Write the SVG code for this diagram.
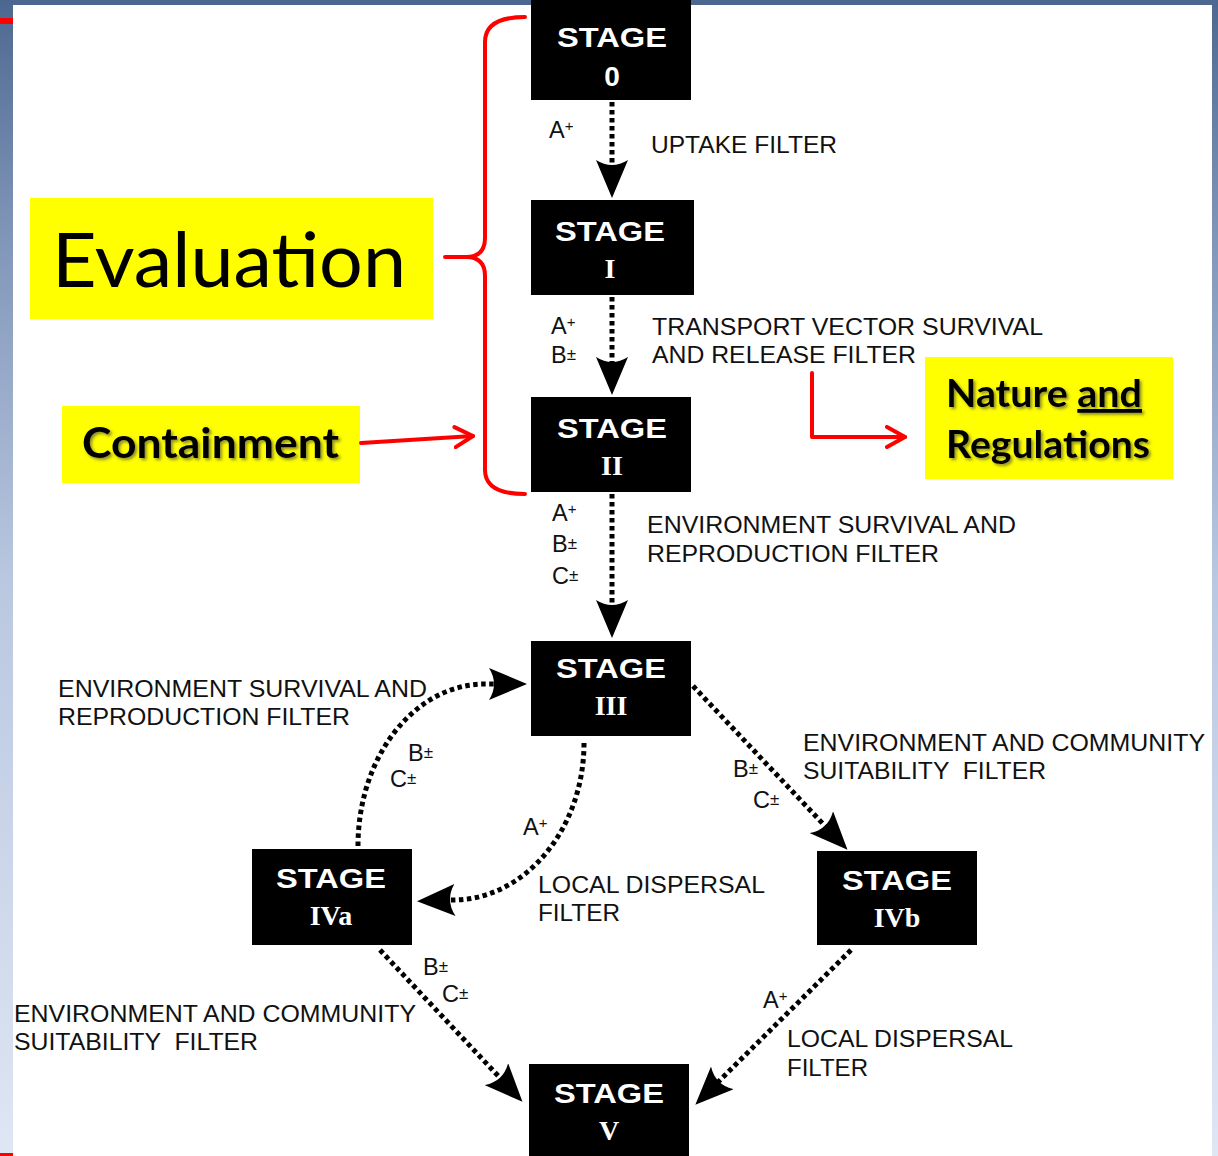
<svg xmlns="http://www.w3.org/2000/svg" width="1218" height="1156" viewBox="0 0 1218 1156">
<defs>
<linearGradient id="side" x1="0" y1="0" x2="0" y2="1">
<stop offset="0" stop-color="#4d6890"/>
<stop offset="0.2" stop-color="#7f95b8"/>
<stop offset="0.5" stop-color="#b9c7e0"/>
<stop offset="1" stop-color="#dfe6f4"/>
</linearGradient>
<marker id="ah" markerUnits="userSpaceOnUse" viewBox="0 0 38 32" markerWidth="38" markerHeight="32" refX="30" refY="16" orient="auto">
<path d="M38,16 L0,0 Q10,16 0,32 Z" fill="#000"/>
</marker>
<marker id="rh" markerUnits="userSpaceOnUse" viewBox="0 0 24 24" markerWidth="24" markerHeight="24" refX="20" refY="12" orient="auto">
<path d="M2,2 L20,12 L2,22" fill="none" stroke="#ff0000" stroke-width="4" stroke-linecap="round" stroke-linejoin="round"/>
</marker>
<filter id="sh" x="-10%" y="-20%" width="130%" height="150%">
<feDropShadow dx="2" dy="2" stdDeviation="1.5" flood-color="#404040" flood-opacity="0.6"/>
</filter>
</defs>
<style>
.box{fill:#000}
.st{font-family:"Liberation Sans",Arial,sans-serif;font-weight:bold;font-size:28px;fill:#fff;text-anchor:middle}
.rn{font-family:"Liberation Serif","Times New Roman",serif;font-weight:bold;font-size:28px;fill:#fff;text-anchor:middle}
.lb{font-family:"Liberation Sans",Arial,sans-serif;font-size:23.5px;fill:#111;white-space:pre}
.sp{font-size:15px}
.pm{font-size:17px}
.dot{fill:none;stroke:#000;stroke-width:5;stroke-dasharray:4.5 3.5;marker-end:url(#ah)}
.red{fill:none;stroke:#ff0000;stroke-width:4;stroke-linecap:round;stroke-linejoin:round}
.yl{fill:#ffff00}
.yt{font-family:Lato,"Liberation Sans",sans-serif;font-weight:bold;fill:#000;filter:url(#sh)}
</style>
<rect width="1218" height="1156" fill="#fff"/>
<rect x="0" y="0" width="13" height="1156" fill="url(#side)"/>
<rect x="1212" y="0" width="6" height="1156" fill="url(#side)"/>
<rect x="0" y="0" width="1218" height="5" fill="#4d6890"/>
<rect x="0" y="18" width="13" height="6" fill="#ff0000"/>
<rect x="0" y="1153" width="13" height="3" fill="#ff0000"/>

<g id="connectors">
<path class="dot" d="M612,102 L612,190"/>
<path class="dot" d="M612,297 L612,387"/>
<path class="dot" d="M612,494 L612,630"/>
<path class="dot" d="M584,743 C584,829 525,900 453,900 L425,901"/>
<path class="dot" d="M358,846 C358,756 415,684 485,684 L519,684"/>
<path class="dot" d="M693,686 L842,844"/>
<path class="dot" d="M380,950 L517,1096"/>
<path class="dot" d="M851,950 L701,1099"/>
</g>

<g id="stage0"><rect class="box" x="531" y="0" width="160" height="100"/><text class="st" x="612" y="47" textLength="110" lengthAdjust="spacingAndGlyphs">STAGE</text><text class="st" x="612" y="86" font-size="30">0</text></g>
<g id="stageI"><rect class="box" x="531" y="200" width="163" height="95"/><text class="st" x="610" y="241" textLength="110" lengthAdjust="spacingAndGlyphs">STAGE</text><text class="rn" x="610" y="278">I</text></g>
<g id="stageII"><rect class="box" x="531" y="397" width="160" height="95"/><text class="st" x="612" y="438" textLength="110" lengthAdjust="spacingAndGlyphs">STAGE</text><text class="rn" x="612" y="475">II</text></g>
<g id="stageIII"><rect class="box" x="531" y="641" width="160" height="95"/><text class="st" x="611" y="678" textLength="110" lengthAdjust="spacingAndGlyphs">STAGE</text><text class="rn" x="611" y="715">III</text></g>
<g id="stageIVa"><rect class="box" x="252" y="849" width="160" height="96"/><text class="st" x="331" y="888" textLength="110" lengthAdjust="spacingAndGlyphs">STAGE</text><text class="rn" x="331" y="925">IVa</text></g>
<g id="stageIVb"><rect class="box" x="817" y="851" width="160" height="94"/><text class="st" x="897" y="890" textLength="110" lengthAdjust="spacingAndGlyphs">STAGE</text><text class="rn" x="897" y="927">IVb</text></g>
<g id="stageV"><rect class="box" x="529" y="1064" width="160" height="96"/><text class="st" x="609" y="1103" textLength="110" lengthAdjust="spacingAndGlyphs">STAGE</text><text class="rn" x="609" y="1140">V</text></g>

<g id="labels">
<text class="lb" x="549" y="138">A<tspan class="sp" dy="-7">+</tspan></text>
<text class="lb" x="651" y="153" textLength="186" lengthAdjust="spacingAndGlyphs">UPTAKE FILTER</text>
<text class="lb" x="551" y="334">A<tspan class="sp" dy="-7">+</tspan></text>
<text class="lb" x="551" y="363">B<tspan class="pm" dy="-3">±</tspan></text>
<text class="lb" x="652" y="335" textLength="391" lengthAdjust="spacingAndGlyphs">TRANSPORT VECTOR SURVIVAL</text>
<text class="lb" x="652" y="363" textLength="264" lengthAdjust="spacingAndGlyphs">AND RELEASE FILTER</text>
<text class="lb" x="552" y="521">A<tspan class="sp" dy="-7">+</tspan></text>
<text class="lb" x="552" y="552">B<tspan class="pm" dy="-3">±</tspan></text>
<text class="lb" x="552" y="584">C<tspan class="pm" dy="-3">±</tspan></text>
<text class="lb" x="647" y="533" textLength="369" lengthAdjust="spacingAndGlyphs">ENVIRONMENT SURVIVAL AND</text>
<text class="lb" x="647" y="562" textLength="292" lengthAdjust="spacingAndGlyphs">REPRODUCTION FILTER</text>
<text class="lb" x="58" y="697" textLength="369" lengthAdjust="spacingAndGlyphs">ENVIRONMENT SURVIVAL AND</text>
<text class="lb" x="58" y="725" textLength="292" lengthAdjust="spacingAndGlyphs">REPRODUCTION FILTER</text>
<text class="lb" x="408" y="761">B<tspan class="pm" dy="-3">±</tspan></text>
<text class="lb" x="390" y="787">C<tspan class="pm" dy="-3">±</tspan></text>
<text class="lb" x="523" y="835">A<tspan class="sp" dy="-7">+</tspan></text>
<text class="lb" x="538" y="893" textLength="227" lengthAdjust="spacingAndGlyphs">LOCAL DISPERSAL</text>
<text class="lb" x="538" y="921" textLength="82" lengthAdjust="spacingAndGlyphs">FILTER</text>
<text class="lb" x="803" y="751" textLength="402" lengthAdjust="spacingAndGlyphs">ENVIRONMENT AND COMMUNITY</text>
<text class="lb" x="803" y="779" textLength="243" lengthAdjust="spacingAndGlyphs">SUITABILITY  FILTER</text>
<text class="lb" x="733" y="777">B<tspan class="pm" dy="-3">±</tspan></text>
<text class="lb" x="753" y="808">C<tspan class="pm" dy="-3">±</tspan></text>
<text class="lb" x="423" y="975">B<tspan class="pm" dy="-3">±</tspan></text>
<text class="lb" x="442" y="1002">C<tspan class="pm" dy="-3">±</tspan></text>
<text class="lb" x="14" y="1022" textLength="402" lengthAdjust="spacingAndGlyphs">ENVIRONMENT AND COMMUNITY</text>
<text class="lb" x="14" y="1050" textLength="244" lengthAdjust="spacingAndGlyphs">SUITABILITY  FILTER</text>
<text class="lb" x="763" y="1008">A<tspan class="sp" dy="-7">+</tspan></text>
<text class="lb" x="787" y="1047" textLength="226" lengthAdjust="spacingAndGlyphs">LOCAL DISPERSAL</text>
<text class="lb" x="787" y="1076" textLength="81" lengthAdjust="spacingAndGlyphs">FILTER</text>
</g>

<g id="bracket">
<path class="red" d="M525,17 Q485,17 485,42 L485,238 Q485,257 466,257 L445,257 M466,257 Q485,257 485,276 L485,470 Q485,494 525,494"/>
</g>
<g id="evaluation">
<rect class="yl" x="30" y="198" width="403" height="121"/>
<text x="52" y="287" font-family="Lato,'Liberation Sans',sans-serif" font-size="76" fill="#000" textLength="354" lengthAdjust="spacingAndGlyphs">Evaluation</text>
</g>
<g id="containment">
<rect class="yl" x="62" y="406" width="298" height="77"/>
<text class="yt" x="82" y="458" font-size="42" textLength="257" lengthAdjust="spacingAndGlyphs">Containment</text>
</g>
<g id="nature">
<rect class="yl" x="925" y="357" width="248" height="122"/>
<text class="yt" x="946" y="407" font-size="38" textLength="196" lengthAdjust="spacingAndGlyphs">Nature <tspan text-decoration="underline">and</tspan></text>
<text class="yt" x="946" y="458" font-size="38" textLength="204" lengthAdjust="spacingAndGlyphs">Regulations</text>
</g>
<g id="red-arrows">
<path class="red" d="M361,443 L473,436" marker-end="url(#rh)"/>
<path class="red" d="M812,373 L812,437 L905,437" marker-end="url(#rh)"/>
</g>
</svg>
